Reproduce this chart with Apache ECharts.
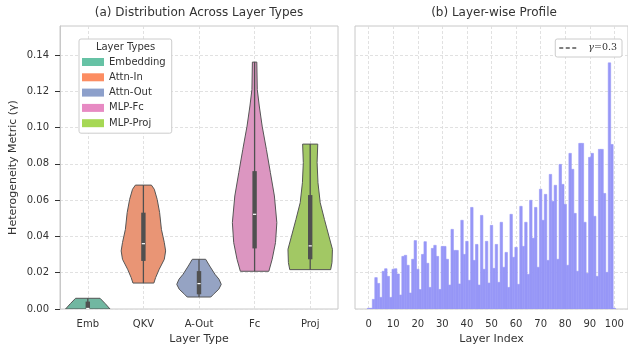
<!DOCTYPE html>
<html>
<head>
<meta charset="utf-8">
<script src="https://cdn.jsdelivr.net/npm/echarts@6/dist/echarts.min.js"></script>
<style>
  html, body { margin: 0; padding: 0; background: #fff; }
  #chart { width: 628px; height: 350px; }
</style>
</head>
<body>
<div id="chart"></div>
<script>
// layer types (left panel)
const layerTypes = ['Embedding', 'Attn-In', 'Attn-Out', 'MLP-Fc', 'MLP-Proj']
const typeLabels = ['Emb', 'QKV', 'A-Out', 'Fc', 'Proj']
const typeTicks = [0, 1, 2, 3, 4]
const gammaTicks = [0, 0.02, 0.04, 0.06, 0.08, 0.1, 0.12, 0.14]

// violin outlines: [gamma, relative width]
const embProfile = [[0, 1.0], [0.003, 0.78], [0.0059, 0.55]]
const qkvProfile = [[0.0143, 0.47], [0.0173, 0.55], [0.0219, 0.71], [0.0274, 0.94], [0.032, 1.0], [0.0366, 0.94],
  [0.0439, 0.81], [0.0531, 0.73], [0.0604, 0.62], [0.066, 0.49], [0.0683, 0.36]]
const aoutProfile = [[0.0066, 0.53], [0.0081, 0.65], [0.0109, 0.89], [0.0136, 1.0], [0.0164, 0.9],
  [0.0191, 0.72], [0.0237, 0.48], [0.0274, 0.3]]
const fcProfile = [[0.0208, 0.64], [0.0274, 0.79], [0.0366, 0.94], [0.0476, 1.0], [0.0623, 0.89], [0.0752, 0.71],
  [0.088, 0.53], [0.1008, 0.34], [0.1119, 0.21], [0.121, 0.12], [0.1361, 0.1]]
const projProfile = [[0.0217, 0.92], [0.0256, 0.98], [0.0329, 1.0], [0.0402, 0.84], [0.0494, 0.64],
  [0.0586, 0.45], [0.0696, 0.35], [0.0807, 0.31], [0.0909, 0.34]]
// quartiles [q1, median, q3]
const embBox = [0.0004, 0.0003, 0.0041]
const qkvBox = [0.0265, 0.036, 0.0531]
const aoutBox = [0.0081, 0.014, 0.0209]
const fcBox = [0.0334, 0.0522, 0.076]
const projBox = [0.0274, 0.0348, 0.0628]

// per-layer gamma (right panel), layer 0..100
const layerGamma = [
  0.0004, 0.0004, 0.0053, 0.0173, 0.0141, 0.0064, 0.0208, 0.0222, 0.018, 0.0064,
  0.0219, 0.0222, 0.0193, 0.0077, 0.029, 0.0296, 0.0241, 0.0088, 0.0274, 0.0377,
  0.0219, 0.0107, 0.0301, 0.0371, 0.0252, 0.0119, 0.0334, 0.0351, 0.029, 0.0108,
  0.0345, 0.0345, 0.0274, 0.0132, 0.0439, 0.0323, 0.0323, 0.0138, 0.0489, 0.0301,
  0.0373, 0.0158, 0.056, 0.0268, 0.0356, 0.0132, 0.0516, 0.0219, 0.0373, 0.0143,
  0.0461, 0.0224, 0.0356, 0.0147, 0.0478, 0.023, 0.0312, 0.0119, 0.0522, 0.0285,
  0.034, 0.0136, 0.0566, 0.0345, 0.0478, 0.0191, 0.0599, 0.039, 0.056, 0.023,
  0.066, 0.0489, 0.0632, 0.0268, 0.0742, 0.0593, 0.0682, 0.0274, 0.0797, 0.0687,
  0.0577, 0.0241, 0.0858, 0.077, 0.0527, 0.0208, 0.0913, 0.0913, 0.0478, 0.0197,
  0.0836, 0.0858, 0.0511, 0.018, 0.088, 0.088, 0.0637, 0.0202, 0.1357, 0.0907,
  0.0004
]
const layerTicks = [0, 10, 20, 30, 40, 50, 60, 70, 80, 90, 100]
const gammaThreshold = 0.3

const profiles = [embProfile, qkvProfile, aoutProfile, fcProfile, projProfile]
const boxes = [embBox, qkvBox, aoutBox, fcBox, projBox]

const typeColors = ['#66c2a5', '#fc8d62', '#8da0cb', '#e78ac3', '#a6d854']
const fillColors = ['#71b7a1', '#e99575', '#95a3c3', '#dc96c1', '#a2c864']
const barColor = '#9797f7'
const textColor = '#333'
const font = 'DejaVu Sans'

const chart = echarts.init(document.getElementById('chart'))

const splitLine = { show: true, lineStyle: { color: '#dedede', type: [3, 2], width: 0.9 } }

function violinSeries(k) {
  const profile = profiles[k]
  const box = boxes[k]
  return {
    type: 'custom',
    name: layerTypes[k],
    xAxisIndex: 0,
    yAxisIndex: 0,
    clip: true,
    itemStyle: { color: typeColors[k] },
    data: [[k]],
    renderItem(params, api) {
      const half = api.size([1, 0])[0] * 0.4
      const left = []
      const right = []
      profile.forEach(([v, d]) => {
        const p = api.coord([k, v])
        left.push([p[0] - d * half, p[1]])
        right.push([p[0] + d * half, p[1]])
      })
      const pts = left.concat(right.reverse())
      const lo = api.coord([k, profile[0][0]])
      const hi = api.coord([k, profile[profile.length - 1][0]])
      const q1 = api.coord([k, box[0]])
      const md = api.coord([k, box[1]])
      const q3 = api.coord([k, box[2]])
      return {
        type: 'group',
        children: [
          { type: 'polygon', shape: { points: pts }, style: { fill: fillColors[k], stroke: '#555', lineWidth: 1 } },
          { type: 'line', shape: { x1: lo[0], y1: lo[1], x2: hi[0], y2: hi[1] }, style: { stroke: '#505050', lineWidth: 1.3 } },
          { type: 'rect', shape: { x: q3[0] - 2.2, y: q3[1], width: 4.4, height: q1[1] - q3[1] }, style: { fill: '#505050' } },
          { type: 'line', shape: { x1: md[0] - 1.6, y1: md[1], x2: md[0] + 1.6, y2: md[1] }, style: { stroke: '#fff', lineWidth: 1.2 } }
        ]
      }
    }
  }
}

const option = {
  animation: false,
  textStyle: { fontFamily: font, color: textColor },
  graphic: [
    { type: 'text', x: 199, y: 13, style: { text: '(a) Distribution Across Layer Types', fontFamily: font, fontSize: 12, fill: textColor, align: 'center', verticalAlign: 'middle' } },
    { type: 'text', x: 494, y: 13, style: { text: '(b) Layer-wise Profile', fontFamily: font, fontSize: 12, fill: textColor, align: 'center', verticalAlign: 'middle' } },
    { type: 'text', x: 125.5, y: 47, z: 100, style: { text: 'Layer Types', fontFamily: font, fontSize: 10, fill: textColor, align: 'center', verticalAlign: 'middle' } }
  ],
  legend: [
    {
      data: layerTypes,
      left: 79,
      top: 39,
      orient: 'vertical',
      icon: 'rect',
      itemWidth: 22,
      itemHeight: 8,
      itemGap: 5.3,
      padding: [18, 6, 5, 3],
      backgroundColor: '#fff',
      borderColor: '#cccccc',
      borderWidth: 1,
      borderRadius: 2,
      textStyle: { fontFamily: font, fontSize: 10, color: textColor }
    },
    {
      data: [{ name: 'γ=0.3', icon: 'path://M0,0h4v1h-4z M6.5,0h4v1h-4z M13,0h4v1h-4z' }],
      right: 6,
      top: 39,
      itemWidth: 17,
      itemHeight: 1.4,
      padding: [4, 5, 4, 4],
      backgroundColor: '#fff',
      borderColor: '#cccccc',
      borderWidth: 1,
      borderRadius: 2,
      formatter: () => '{g|γ}{n|=0.3}',
      textStyle: {
        padding: [0, 0, 0, 7],
        rich: {
          g: { fontFamily: 'DejaVu Serif', fontStyle: 'italic', fontSize: 9.5, color: textColor },
          n: { fontFamily: 'DejaVu Serif', fontSize: 9.5, color: textColor }
        }
      }
    }
  ],
  grid: [
    { left: 60, top: 26, width: 278, height: 284, show: true, borderColor: '#c8c8c8', borderWidth: 1, backgroundColor: 'transparent' },
    { left: 355, top: 26, width: 278, height: 284, show: true, borderColor: '#c8c8c8', borderWidth: 1, backgroundColor: 'transparent' }
  ],
  xAxis: [
    {
      type: 'value', gridIndex: 0, min: -0.5, max: 4.5,
      name: 'Layer Type', nameLocation: 'middle', nameGap: 25,
      nameTextStyle: { fontFamily: font, fontSize: 11, color: textColor },
      axisLine: { show: false, onZero: false },
      axisTick: { show: false, customValues: typeTicks },
      axisLabel: { customValues: typeTicks, margin: 10, fontFamily: font, fontSize: 10, color: textColor, formatter: v => typeLabels[v] },
      splitLine: splitLine
    },
    {
      type: 'value', gridIndex: 1, min: -5.55, max: 105.55,
      name: 'Layer Index', nameLocation: 'middle', nameGap: 25,
      nameTextStyle: { fontFamily: font, fontSize: 11, color: textColor },
      axisLine: { show: false, onZero: false },
      axisTick: { show: false, customValues: layerTicks },
      axisLabel: { customValues: layerTicks, margin: 10, fontFamily: font, fontSize: 10, color: textColor },
      splitLine: splitLine
    }
  ],
  yAxis: [
    {
      type: 'value', gridIndex: 0, min: 0, max: 0.156,
      name: 'Heterogeneity Metric (γ)', nameLocation: 'middle', nameGap: 41,
      nameTextStyle: { fontFamily: font, fontSize: 11, color: textColor },
      axisLine: { show: true, onZero: false, lineStyle: { color: '#c8c8c8', width: 1 } },
      axisTick: { show: true, length: 5, customValues: gammaTicks, lineStyle: { color: '#333', width: 1 } },
      axisLabel: { customValues: gammaTicks, margin: 11, fontFamily: font, fontSize: 10, color: textColor, formatter: v => v.toFixed(2) },
      splitLine: splitLine
    },
    {
      type: 'value', gridIndex: 1, min: 0, max: 0.156,
      axisLine: { show: false, onZero: false },
      axisTick: { show: false, customValues: gammaTicks },
      axisLabel: { show: false, customValues: gammaTicks },
      splitLine: splitLine
    }
  ],
  series: [
    ...typeTicks.map(violinSeries),
    {
      type: 'custom',
      name: 'layers',
      xAxisIndex: 1,
      yAxisIndex: 1,
      clip: true,
      data: layerGamma.map((g, i) => [i, g]),
      encode: { x: 0, y: 1 },
      renderItem(params, api) {
        const i = api.value(0)
        const g = api.value(1)
        const a = api.coord([i - 0.5, g])
        const b = api.coord([i + 0.5, 0])
        return {
          type: 'rect',
          shape: { x: a[0], y: a[1], width: b[0] - a[0], height: b[1] - a[1] },
          style: { fill: barColor, stroke: barColor, lineWidth: 0.6 }
        }
      }
    },
    {
      type: 'line',
      name: 'γ=0.3',
      xAxisIndex: 1,
      yAxisIndex: 1,
      symbol: 'none',
      clip: true,
      data: [[-5.55, gammaThreshold], [105.55, gammaThreshold]],
      itemStyle: { color: '#000' },
      lineStyle: { color: '#000', type: [4, 2], width: 1.4 }
    }
  ]
}

chart.setOption(option)
</script>
</body>
</html>
